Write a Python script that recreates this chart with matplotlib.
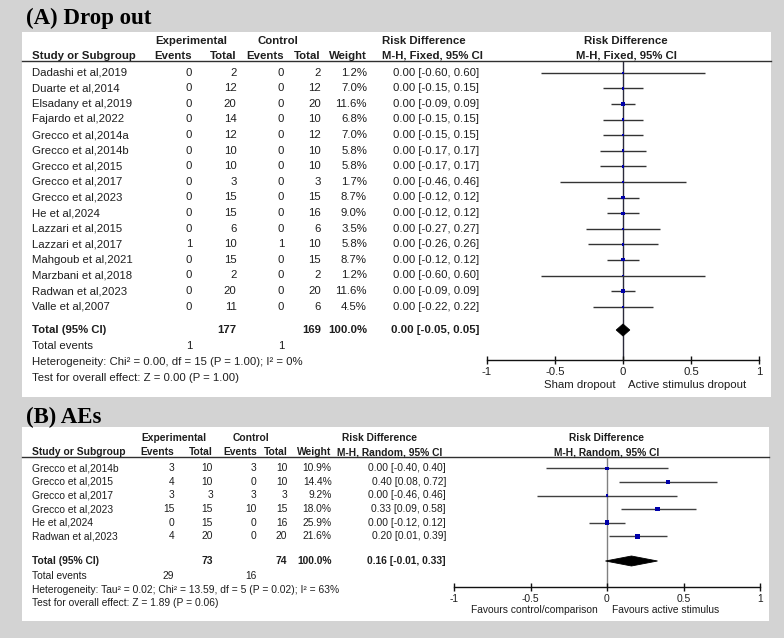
import matplotlib
matplotlib.use("Agg")
import matplotlib.pyplot as plt
from matplotlib.patches import Rectangle, Polygon

plt.rcParams["font.family"] = ["Liberation Sans", "DejaVu Sans"]
plt.rcParams["axes.unicode_minus"] = False

# ---------------- Panel A data (Drop out) ----------------
studies_a = ["Dadashi et al,2019", "Duarte et al,2014", "Elsadany et al,2019", "Fajardo et al,2022",
             "Grecco et al,2014a", "Grecco et al,2014b", "Grecco et al,2015", "Grecco et al,2017",
             "Grecco et al,2023", "He et al,2024", "Lazzari et al,2015", "Lazzari et al,2017",
             "Mahgoub et al,2021", "Marzbani et al,2018", "Radwan et al,2023", "Valle et al,2007"]
exp_events_a = [0, 0, 0, 0, 0, 0, 0, 0, 0, 0, 0, 1, 0, 0, 0, 0]
exp_total_a = [2, 12, 20, 14, 12, 10, 10, 3, 15, 15, 6, 10, 15, 2, 20, 11]
ctl_events_a = [0, 0, 0, 0, 0, 0, 0, 0, 0, 0, 0, 1, 0, 0, 0, 0]
ctl_total_a = [2, 12, 20, 10, 12, 10, 10, 3, 15, 16, 6, 10, 15, 2, 20, 6]
weight_a = [1.2, 7.0, 11.6, 6.8, 7.0, 5.8, 5.8, 1.7, 8.7, 9.0, 3.5, 5.8, 8.7, 1.2, 11.6, 4.5]
rd_a = [0.00, 0.00, 0.00, 0.00, 0.00, 0.00, 0.00, 0.00, 0.00, 0.00, 0.00, 0.00, 0.00, 0.00, 0.00, 0.00]
lo_a = [-0.60, -0.15, -0.09, -0.15, -0.15, -0.17, -0.17, -0.46, -0.12, -0.12, -0.27, -0.26, -0.12, -0.60, -0.09, -0.22]
hi_a = [0.60, 0.15, 0.09, 0.15, 0.15, 0.17, 0.17, 0.46, 0.12, 0.12, 0.27, 0.26, 0.12, 0.60, 0.09, 0.22]
total_a = {"exp_total": 177, "ctl_total": 169, "weight": 100.0, "rd": 0.00, "lo": -0.05, "hi": 0.05,
           "exp_events": 1, "ctl_events": 1}
het_a = "Heterogeneity: Chi\u00b2 = 0.00, df = 15 (P = 1.00); I\u00b2 = 0%"
test_a = "Test for overall effect: Z = 0.00 (P = 1.00)"
method_a = "M-H, Fixed, 95% CI"
favours_a = ["Sham dropout", "Active stimulus dropout"]

# ---------------- Panel B data (AEs) ----------------
studies_b = ["Grecco et al,2014b", "Grecco et al,2015", "Grecco et al,2017", "Grecco et al,2023",
             "He et al,2024", "Radwan et al,2023"]
exp_events_b = [3, 4, 3, 15, 0, 4]
exp_total_b = [10, 10, 3, 15, 15, 20]
ctl_events_b = [3, 0, 3, 10, 0, 0]
ctl_total_b = [10, 10, 3, 15, 16, 20]
weight_b = [10.9, 14.4, 9.2, 18.0, 25.9, 21.6]
rd_b = [0.00, 0.40, 0.00, 0.33, 0.00, 0.20]
lo_b = [-0.40, 0.08, -0.46, 0.09, -0.12, 0.01]
hi_b = [0.40, 0.72, 0.46, 0.58, 0.12, 0.39]
total_b = {"exp_total": 73, "ctl_total": 74, "weight": 100.0, "rd": 0.16, "lo": -0.01, "hi": 0.33,
           "exp_events": 29, "ctl_events": 16}
het_b = "Heterogeneity: Tau\u00b2 = 0.02; Chi\u00b2 = 13.59, df = 5 (P = 0.02); I\u00b2 = 63%"
test_b = "Test for overall effect: Z = 1.89 (P = 0.06)"
method_b = "M-H, Random, 95% CI"
favours_b = ["Favours control/comparison", "Favours active stimulus"]

tick_vals = [-1, -0.5, 0, 0.5, 1]
tick_labels = ["-1", "-0.5", "0", "0.5", "1"]

W, H = 784, 638
fig = plt.figure(figsize=(W / 100, H / 100), dpi=100)
fig.patch.set_facecolor("#d3d3d3")
bg = fig.add_axes([0, 0, 1, 1])
bg.set_xlim(0, W)
bg.set_ylim(H, 0)
bg.axis("off")

TXT = "#1e1e1e"


def fx(x):
    return x / W


def fy(y):
    return 1 - y / H


def draw_panel(L, d):
    fs = L["fs"]
    # white panel
    bg.add_patch(Rectangle((L["px0"], L["py0"]), L["px1"] - L["px0"], L["py1"] - L["py0"],
                           facecolor="white", edgecolor="none", zorder=0))
    bg.text(L["title_x"], L["title_y"], L["title"], fontsize=16.5, fontweight="bold",
            family=["Liberation Serif", "DejaVu Serif"], ha="left", va="center", color="black")
    hb = dict(fontsize=fs, fontweight="bold", color=TXT, va="center")
    # group headers
    bg.text(L["exp_l"], L["h1"], "Experimental", ha="left", **hb)
    bg.text(L["ctl_l"], L["h1"], "Control", ha="left", **hb)
    bg.text(L["rdh1_l"], L["h1"], "Risk Difference", ha="left", **hb)
    bg.text(L["rdh2_l"], L["h2"], d["method"], ha="left", **hb)
    bg.text(L["fcx"], L["h1"], "Risk Difference", ha="center", **hb)
    bg.text(L["fcx"], L["h2"], d["method"], ha="center", **hb)
    bg.text(L["study_x"], L["h2"], "Study or Subgroup", ha="left", **hb)
    bg.text(L["ee_r"], L["h2"], "Events", ha="right", **hb)
    bg.text(L["et_r"], L["h2"], "Total", ha="right", **hb)
    bg.text(L["ce_r"], L["h2"], "Events", ha="right", **hb)
    bg.text(L["ct_r"], L["h2"], "Total", ha="right", **hb)
    bg.text(L["w_r"], L["h2"], "Weight", ha="right", **hb)
    bg.plot([L["px0"], L["px1"]], [L["hline"], L["hline"]], color="#303030", lw=1.0)

    rn = dict(fontsize=fs, color=TXT, va="center")
    ys = [L["row0"] + i * L["dy"] for i in range(len(d["studies"]))]
    for i, y in enumerate(ys):
        bg.text(L["study_x"], y, d["studies"][i], ha="left", **rn)
        bg.text(L["ee_r"], y, str(d["ee"][i]), ha="right", **rn)
        bg.text(L["et_r"], y, str(d["et"][i]), ha="right", **rn)
        bg.text(L["ce_r"], y, str(d["ce"][i]), ha="right", **rn)
        bg.text(L["ct_r"], y, str(d["ct"][i]), ha="right", **rn)
        bg.text(L["w_r"], y, f"{d['w'][i]:.1f}%", ha="right", **rn)
        bg.text(L["rd_r"], y, f"{d['rd'][i]:.2f} [{d['lo'][i]:.2f}, {d['hi'][i]:.2f}]", ha="right", **rn)
    t = d["total"]
    ty = L["total_y"]
    bg.text(L["study_x"], ty, "Total (95% CI)", ha="left", **hb)
    bg.text(L["et_r"], ty, str(t["exp_total"]), ha="right", **hb)
    bg.text(L["ct_r"], ty, str(t["ctl_total"]), ha="right", **hb)
    bg.text(L["w_r"], ty, f"{t['weight']:.1f}%", ha="right", **hb)
    bg.text(L["rd_r"], ty, f"{t['rd']:.2f} [{t['lo']:.2f}, {t['hi']:.2f}]", ha="right", **hb)
    bg.text(L["study_x"], L["tev_y"], "Total events", ha="left", **rn)
    bg.text(L["ee_r"], L["tev_y"], str(t["exp_events"]), ha="right", **rn)
    bg.text(L["ce_r"], L["tev_y"], str(t["ctl_events"]), ha="right", **rn)
    bg.text(L["study_x"], L["het_y"], d["het"], ha="left", **rn)
    bg.text(L["study_x"], L["test_y"], d["test"], ha="left", **rn)

    # forest axes: x in risk difference, y in pixel rows
    ax = fig.add_axes([fx(L["xm1"]), fy(L["py1"]), fx(L["xp1"] - L["xm1"]), (L["py1"] - L["hline"]) / H])
    ax.set_xlim(-1, 1)
    ax.set_ylim(L["py1"], L["hline"])
    ax.patch.set_visible(False)
    for s in ["top", "left", "right"]:
        ax.spines[s].set_visible(False)
    ax.spines["bottom"].set_position(("data", L["axis_y"]))
    ax.spines["bottom"].set_linewidth(1.0)
    ax.spines["bottom"].set_color("#111111")
    ax.set_yticks([])
    ax.set_xticks(tick_vals)
    ax.set_xticklabels(tick_labels)
    ax.tick_params(axis="x", direction="inout", length=6, width=1.0, pad=L["tpad"],
                   labelsize=fs, colors="#111111", labelcolor=TXT)
    ax.vlines(0, L["hline"], L["axis_y"], color=L["zero_c"], lw=1.0, zorder=1)
    ax.hlines(ys, d["lo"], d["hi"], color=L["ci_c"], lw=1.0, zorder=2, clip_on=False)
    ax.scatter(d["rd"], ys, marker="s", s=[max(1.6, w * L["sq_k"]) for w in d["w"]],
               color="#0000aa", linewidths=0, zorder=3, clip_on=False)
    h = L["dia_h"]
    ax.add_patch(Polygon([[t["lo"], ty], [t["rd"], ty - h], [t["hi"], ty], [t["rd"], ty + h]],
                         closed=True, facecolor="black", edgecolor="black", lw=0.6, zorder=4, clip_on=False))
    ax.annotate(d["fav"][0], xy=(0, L["fav_y"]), xytext=(L["fav_off"][0], 0), textcoords="offset points",
                ha="right", va="center", fontsize=fs, color=TXT)
    ax.annotate(d["fav"][1], xy=(0, L["fav_y"]), xytext=(L["fav_off"][1], 0), textcoords="offset points",
                ha="left", va="center", fontsize=fs, color=TXT)


layout_a = dict(px0=22.5, px1=771, py0=31.5, py1=397, title="(A) Drop out", title_x=26.5, title_y=18,
                fs=8.2, h1=41, h2=56, hline=61, row0=72.7, dy=15.6,
                total_y=330, tev_y=346, het_y=362, test_y=378,
                study_x=32, ee_r=192, et_r=236.5, ce_r=284, ct_r=321, w_r=367, rd_r=479,
                exp_l=155, ctl_l=258, rdh1_l=382, rdh2_l=382, fcx=626,
                xm1=487, xp1=759, axis_y=359.5, fav_y=385.5, fav_off=(-5, 3.6), tpad=2.5,
                zero_c="#2a2a3a", ci_c="#333333", sq_k=0.55, dia_h=6)
data_a = dict(studies=studies_a, ee=exp_events_a, et=exp_total_a, ce=ctl_events_a, ct=ctl_total_a,
              w=weight_a, rd=rd_a, lo=lo_a, hi=hi_a, total=total_a, het=het_a, test=test_a,
              method=method_a, fav=favours_a)

layout_b = dict(px0=22.5, px1=769, py0=427, py1=621, title="(B) AEs", title_x=26.5, title_y=417,
                fs=7.4, h1=438.3, h2=452.3, hline=457, row0=468.3, dy=13.6,
                total_y=561, tev_y=576, het_y=590, test_y=603,
                study_x=31.7, ee_r=174.3, et_r=213, ce_r=256.7, ct_r=287.3, w_r=331.7, rd_r=446,
                exp_l=141.7, ctl_l=233, rdh1_l=342, rdh2_l=337, fcx=607,
                xm1=454, xp1=760, axis_y=587, fav_y=610, fav_off=(-6.5, 3.6), tpad=1.8,
                zero_c="#808080", ci_c="#404040", sq_k=0.5, dia_h=5)
data_b = dict(studies=studies_b, ee=exp_events_b, et=exp_total_b, ce=ctl_events_b, ct=ctl_total_b,
              w=weight_b, rd=rd_b, lo=lo_b, hi=hi_b, total=total_b, het=het_b, test=test_b,
              method=method_b, fav=favours_b)

draw_panel(layout_a, data_a)
draw_panel(layout_b, data_b)

fig.savefig("out.png", dpi=100, facecolor=fig.get_facecolor())
